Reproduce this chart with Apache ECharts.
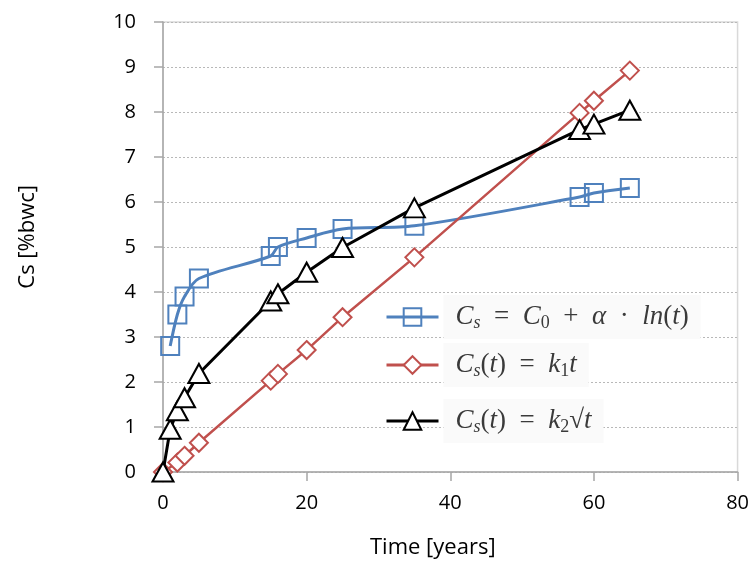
<!DOCTYPE html>
<html>
<head>
<meta charset="utf-8">
<script src="https://cdn.jsdelivr.net/npm/echarts@6/dist/echarts.min.js"></script>
<style>
html,body{margin:0;padding:0;background:#fff;}
#chart{width:752px;height:571px;}
</style>
</head>
<body>
<div id="chart"></div>
<script>
// ---- data ----
var tBlue  = [1, 2, 3, 5, 15, 16, 20, 25, 35, 58, 60, 65];
var cBlue  = [2.8, 3.5, 3.9, 4.3, 4.8, 5.0, 5.2, 5.4, 5.47, 6.11, 6.2, 6.31];
var tRed   = [0, 2, 3, 5, 15, 16, 20, 25, 35, 58, 60, 65];
var cRed   = [0, 0.21, 0.36, 0.65, 2.03, 2.18, 2.71, 3.44, 4.77, 7.98, 8.25, 8.92];
var tBlack = [0, 1, 2, 3, 5, 15, 16, 20, 25, 35, 58, 60, 65];
var cBlack = [0, 0.95, 1.36, 1.65, 2.19, 3.8, 3.96, 4.44, 4.99, 5.87, 7.61, 7.73, 8.04];
var seriesNames = ['log', 'linear', 'sqrt'];
var xTitle = 'Time [years]';
var yTitle = 'Cs [%bwc]';

function pairs(xs, ys) { return xs.map(function (x, i) { return [x, ys[i]]; }); }

var chart = echarts.init(document.getElementById('chart'));
var labelFont = '"Open Sans", "Liberation Sans", Arial, sans-serif';
var mathFont = '"Liberation Serif", "DejaVu Serif", serif';
var mc = '#3a3a3a';

var rich = {
  m: { fontFamily: mathFont, fontStyle: 'italic', fontSize: 27, color: mc, lineHeight: 30 },
  u: { fontFamily: mathFont, fontStyle: 'normal', fontSize: 27, color: mc, lineHeight: 30 },
  s: { fontFamily: mathFont, fontStyle: 'italic', fontSize: 18, color: mc, lineHeight: 16, verticalAlign: 'bottom' },
  n: { fontFamily: mathFont, fontStyle: 'normal', fontSize: 18, color: mc, lineHeight: 16, verticalAlign: 'bottom' }
};
var formulas = {
  'log': '{m|C}{s|s}{u|  =  }{m|C}{n|0}{u|  +  }{m|α}{u|  ·  }{m|ln}{u|(}{m|t}{u|)}',
  'linear': '{m|C}{s|s}{u|(}{m|t}{u|)  =  }{m|k}{n|1}{m|t}',
  'sqrt': '{m|C}{s|s}{u|(}{m|t}{u|)  =  }{m|k}{n|2}{u|√}{m|t}'
};

function makeLegend(name, top, color) {
  return {
    data: [name],
    left: 385,
    top: top,
    padding: 0,
    itemWidth: 52,
    itemHeight: 22,
    itemGap: 0,
    lineStyle: { width: 3 },
    itemStyle: { borderWidth: 2 },
    formatter: function (n) { return formulas[n]; },
    textStyle: {
      rich: rich,
      backgroundColor: '#fafafa',
      padding: [7, 12, 7, 12]
    }
  };
}

var option = {
  animation: false,
  backgroundColor: '#fff',
  grid: {
    left: 163, right: 14, top: 22, bottom: 99,
    show: true, borderColor: '#d9d9d9', borderWidth: 1.5, backgroundColor: 'transparent'
  },
  legend: [
    makeLegend('log', 295),
    makeLegend('linear', 343),
    makeLegend('sqrt', 399)
  ],
  xAxis: {
    type: 'value', min: 0, max: 80, interval: 20,
    axisLine: { show: true, onZero: false, lineStyle: { color: '#a6a6a6', width: 1.5 } },
    axisTick: { show: true, length: 9, lineStyle: { color: '#a6a6a6', width: 1.5 } },
    axisLabel: { fontFamily: labelFont, fontSize: 20, color: '#000', margin: 21 },
    splitLine: { show: false }
  },
  yAxis: {
    type: 'value', min: 0, max: 10, interval: 1,
    axisLine: { show: true, onZero: false, lineStyle: { color: '#a6a6a6', width: 1.5 } },
    axisTick: { show: true, length: 9, lineStyle: { color: '#a6a6a6', width: 1.5 } },
    axisLabel: { fontFamily: labelFont, fontSize: 20, color: '#000', margin: 27 },
    splitLine: { show: true, lineStyle: { color: '#b8b8b8', type: [2, 2], width: 1 } }
  },
  graphic: [{
    type: 'text',
    left: 17, top: 185,
    rotation: Math.PI / 2,
    style: { text: yTitle, font: '22px ' + labelFont, fill: '#000' }
  }, {
    type: 'text',
    left: 370, top: 537,
    style: { text: xTitle, font: '22px ' + labelFont, fill: '#000' }
  }],
  series: [
    {
      name: 'log', type: 'line', data: pairs(tBlue, cBlue),
      smooth: 0.3,
      symbol: 'rect', symbolSize: 18,
      lineStyle: { color: '#4f81bd', width: 3 },
      itemStyle: { color: 'rgba(255,255,255,0)', borderColor: '#4f81bd', borderWidth: 2 },
      z: 2
    },
    {
      name: 'linear', type: 'line', data: pairs(tRed, cRed),
      symbol: 'diamond', symbolSize: 18,
      lineStyle: { color: '#c0504d', width: 2.5 },
      itemStyle: { color: '#fff', borderColor: '#c0504d', borderWidth: 2 },
      z: 3
    },
    {
      name: 'sqrt', type: 'line', data: pairs(tBlack, cBlack),
      symbol: 'triangle', symbolSize: [21, 19],
      lineStyle: { color: '#000', width: 3 },
      itemStyle: { color: '#fff', borderColor: '#000', borderWidth: 2 },
      z: 4
    }
  ]
};
chart.setOption(option);
</script>
</body>
</html>
